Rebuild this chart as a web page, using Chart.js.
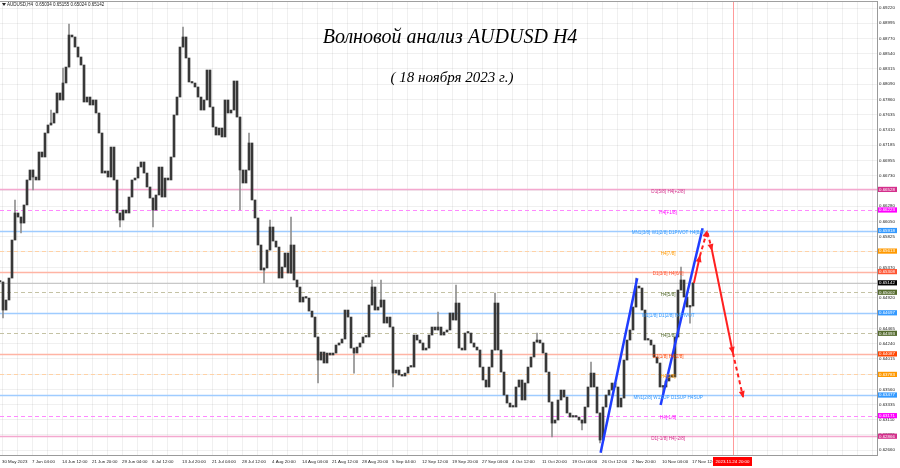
<!DOCTYPE html>
<html>
<head>
<meta charset="utf-8">
<title>AUDUSD H4</title>
<script src="https://cdn.jsdelivr.net/npm/chart.js@4.4.0/dist/chart.umd.min.js"></script>
<style>
  html, body { margin: 0; padding: 0; background: #fff; }
  canvas { display: block; }
</style>
</head>
<body>
<canvas id="chart" width="900" height="468"></canvas>
<script>
// closing prices, one slot ~ 3 H4 bars, 30 May 2023 -> 17 Nov 2023
const closes = [
  0.65154, 0.64738, 0.64887, 0.65213, 0.65777, 0.66178, 0.66118, 0.66029, 0.66297, 0.66668,
  0.66816, 0.66712, 0.66668, 0.67083, 0.67009, 0.67365, 0.67484, 0.67513, 0.67662, 0.67959,
  0.67855, 0.68107, 0.68344, 0.68819, 0.68790, 0.68641, 0.68493, 0.68374, 0.67825, 0.67899,
  0.67781, 0.67855, 0.67662, 0.67365, 0.66771, 0.66801, 0.66712, 0.67157, 0.66668, 0.66178,
  0.66074, 0.66222, 0.66178, 0.66415, 0.66668, 0.66697, 0.66860, 0.66935, 0.66771, 0.66564,
  0.66400, 0.66222, 0.66445, 0.66860, 0.66415, 0.66697, 0.66668, 0.67009, 0.67632, 0.67899,
  0.68641, 0.68790, 0.68478, 0.68122, 0.68107, 0.68048, 0.67899, 0.67706, 0.67855, 0.68300,
  0.67751, 0.67454, 0.67335, 0.67439, 0.67306, 0.67855, 0.67662, 0.67706, 0.68137, 0.67602,
  0.66816, 0.66623, 0.66816, 0.67217, 0.66371, 0.66104, 0.65703, 0.65332, 0.65362, 0.65629,
  0.65970, 0.65762, 0.65673, 0.65213, 0.65376, 0.65584, 0.65287, 0.65703, 0.65184, 0.65080,
  0.64857, 0.64931, 0.64916, 0.64723, 0.64634, 0.64338, 0.63996, 0.64115, 0.63952, 0.64100,
  0.64071, 0.64100, 0.64219, 0.64249, 0.64308, 0.64738, 0.64634, 0.64174, 0.64100, 0.64189,
  0.64249, 0.64338, 0.64338, 0.64813, 0.65080, 0.64738, 0.64783, 0.64887, 0.64545, 0.64634,
  0.64486, 0.63803, 0.63848, 0.63774, 0.63759, 0.63803, 0.63892, 0.63892, 0.64367, 0.64293,
  0.64249, 0.64145, 0.64174, 0.64367, 0.64486, 0.64442, 0.64486, 0.64367, 0.64412, 0.64442,
  0.64694, 0.64590, 0.64842, 0.64174, 0.64145, 0.64397, 0.64397, 0.64249, 0.64189, 0.64145,
  0.63892, 0.63700, 0.63596, 0.63892, 0.64145, 0.64842, 0.64145, 0.63818, 0.63477, 0.63358,
  0.63299, 0.63299, 0.63596, 0.63700, 0.63403, 0.63655, 0.63892, 0.64041, 0.64263, 0.64293,
  0.64249, 0.64100, 0.63818, 0.63373, 0.63061, 0.63106, 0.63403, 0.63551, 0.63447, 0.63210,
  0.63150, 0.63150, 0.63150, 0.63106, 0.63061, 0.63299, 0.63596, 0.63803, 0.63596, 0.63210,
  0.62809, 0.63299, 0.63477, 0.63551, 0.63655, 0.63596, 0.63299, 0.63432, 0.63996, 0.64293,
  0.64442, 0.64783, 0.65094, 0.65065, 0.64738, 0.64293, 0.64293, 0.64219, 0.64041, 0.63952,
  0.63596, 0.63596, 0.63685, 0.63774, 0.63744, 0.64338, 0.65035, 0.65184, 0.64931, 0.64783,
  0.64798, 0.65142
];

// visible wick spikes
const wickSlots = [1, 5, 7, 11, 17, 21, 23, 40, 51, 61, 80, 83, 88, 90, 97, 106, 118, 124, 127, 131,
  146, 152, 165, 179, 184, 194, 197, 200, 212, 221, 227, 230];
const wickLow = [0.64620, 0.66118, 0.65881, 0.66519, 0.67484, 0.67855, 0.68344, 0.65970, 0.65970, 0.68641,
  0.66222, 0.66816, 0.65139, 0.65629, 0.65287, 0.63655, 0.63803, 0.64813, 0.64783, 0.63596,
  0.64442, 0.64590, 0.64145, 0.64263, 0.62854, 0.62958, 0.63596, 0.62765, 0.64783, 0.63447, 0.65035, 0.64545];
const wickHigh = [0.65154, 0.66371, 0.66118, 0.66816, 0.67706, 0.68330, 0.68983, 0.66178, 0.66400, 0.68938,
  0.67602, 0.67365, 0.65362, 0.66074, 0.66118, 0.64338, 0.64174, 0.65184, 0.65184, 0.64486,
  0.64709, 0.65109, 0.64991, 0.64397, 0.63373, 0.63106, 0.63967, 0.63210, 0.65213, 0.63596, 0.65376, 0.64798];

const priceTicks = [0.69220, 0.68995, 0.68770, 0.68540, 0.68315, 0.68090, 0.67860, 0.67635, 0.67410, 0.67185,
  0.66955, 0.66730, 0.66505, 0.66280, 0.66050, 0.65825, 0.65600, 0.65370, 0.65145, 0.64920,
  0.64690, 0.64465, 0.64240, 0.64015, 0.63785, 0.63560, 0.63335, 0.63110, 0.62885, 0.62660];

const timeLabels = ['30 May 2023', '7 Jun 04:00', '14 Jun 12:00', '21 Jun 20:00', '29 Jun 04:00', '6 Jul 12:00',
  '13 Jul 20:00', '21 Jul 04:00', '28 Jul 12:00', '4 Aug 20:00', '14 Aug 04:00', '21 Aug 12:00',
  '28 Aug 20:00', '5 Sep 04:00', '12 Sep 12:00', '19 Sep 20:00', '27 Sep 04:00', '4 Oct 12:00',
  '11 Oct 20:00', '19 Oct 04:00', '26 Oct 12:00', '2 Nov 20:00', '10 Nov 04:00', '17 Nov 12:00'];

// Murrey levels
const levelPrices = [0.66528, 0.66223, 0.65918, 0.65613, 0.65308, 0.65002, 0.64697, 0.64393, 0.64087, 0.63783, 0.63477, 0.63171, 0.62866];
const levelNames = ['D1[5/8] H4[+2/8]', 'H4[+1/8]', 'MN1[3/8] W1[2/8] D1PIVOT H4[8/8]', 'H4[7/8]', 'D1[3/8] H4[6/8]',
  'H4[5/8]', 'W1[1/8] D1[2/8] H4PIVOT', 'H4[3/8]', 'D1[1/8] H4[2/8]', 'H4[1/8]', 'MN1[2/8] W1SUP D1SUP H4SUP', 'H4[-1/8]', 'D1[-1/8] H4[-2/8]'];
const levelBox = ['#d42f8c', '#ff00ff', '#3399ff', '#ff9900', '#ff5533', '#556b2f', '#3399ff', '#556b2f', '#ff4500', '#ff9900', '#3399ff', '#ff00ff', '#d42f8c'];
const levelLine = ['#f4a8cf', '#ff88ff', '#9fccff', '#ffd2a6', '#ffb4a4', '#c4c2a4', '#9fccff', '#c4c2a4', '#ffb4a4', '#ffd2a6', '#9fccff', '#ff88ff', '#f4a8cf'];
const levelDash = [false, true, false, true, false, true, false, true, false, true, false, true, false];
const levelLabelSlot = 222.7;

// wave marks
const blueWave1Slots = [200.2, 212.4];
const blueWave1Prices = [0.62621, 0.65209];
const blueWave2Slots = [220.2, 234.2];
const blueWave2Prices = [0.63329, 0.65951];
const redSlots = [231.3, 233.3, 235.7, 237.3, 244.3, 247.7];
const redPrices = [0.65139, 0.65540, 0.65911, 0.65629, 0.64100, 0.63447];
const redDashed = [false, true, true, false, true];

const timeLineSlot = 244.33;
const timeLineLabel = '2023.11.24 20:00';
const header = 'AUDUSD,H4  0.65034 0.65155 0.65024 0.65142';

const gridColor = 'rgba(0,0,0,0.06)';
const smallFont = '"Liberation Sans", Arial, sans-serif';

const bodies = closes.map((c, i) => ({ x: i, y: [i ? closes[i - 1] : c, c] }));
const wicks = wickSlots.map((s, k) => ({ x: s, y: [wickLow[k], wickHigh[k]] }));
const toPts = (xs, ys) => xs.map((v, k) => ({ x: v, y: ys[k] }));

const gridSlots = [];
for (let j = 0; j * 5 + 2 / 3 < 292; j++) gridSlots.push(j * 5 + 2 / 3);

function arrowHead(ctx, x0, y0, x1, y1, color) {
  const ang = Math.atan2(y1 - y0, x1 - x0);
  ctx.save();
  ctx.translate(x1, y1);
  ctx.rotate(ang);
  ctx.beginPath();
  ctx.moveTo(1, 0);
  ctx.lineTo(-6, -3);
  ctx.lineTo(-6, 3);
  ctx.closePath();
  ctx.fillStyle = color;
  ctx.fill();
  ctx.restore();
}

const overlay = {
  id: 'overlay',
  beforeDatasetsDraw(chart) {
    const { ctx, chartArea: a, scales: { x, y } } = chart;
    ctx.save();
    levelPrices.forEach((p, k) => {
      const py = Math.round(y.getPixelForValue(p)) + 0.5;
      ctx.strokeStyle = levelLine[k];
      ctx.lineWidth = levelDash[k] ? 1 : 1.4;
      ctx.setLineDash(levelDash[k] ? [4, 3] : []);
      ctx.beginPath();
      ctx.moveTo(a.left, py);
      ctx.lineTo(a.right, py);
      ctx.stroke();
    });
    // bid line
    const by = Math.round(y.getPixelForValue(closes[closes.length - 1])) + 0.5;
    ctx.setLineDash([]);
    ctx.strokeStyle = '#c8c8c8';
    ctx.lineWidth = 1;
    ctx.beginPath();
    ctx.moveTo(a.left, by);
    ctx.lineTo(a.right, by);
    ctx.stroke();
    // time line
    const tx = Math.round(x.getPixelForValue(timeLineSlot)) + 0.5;
    ctx.strokeStyle = '#ff9a9a';
    ctx.beginPath();
    ctx.moveTo(tx, a.top);
    ctx.lineTo(tx, a.bottom);
    ctx.stroke();
    ctx.restore();
  },
  afterDatasetsDraw(chart) {
    const { ctx, scales: { x, y } } = chart;
    ctx.save();
    ctx.font = '4.6px ' + smallFont;
    ctx.textAlign = 'center';
    ctx.textBaseline = 'middle';
    const lx = x.getPixelForValue(levelLabelSlot);
    levelPrices.forEach((p, k) => {
      ctx.fillStyle = levelBox[k];
      ctx.fillText(levelNames[k], lx, y.getPixelForValue(p) + 2.5);
    });
    const pts = chart.getDatasetMeta(2).data;
    for (let i = 1; i < pts.length; i++) {
      arrowHead(ctx, pts[i - 1].x, pts[i - 1].y, pts[i].x, pts[i].y, '#ff2020');
    }
    ctx.restore();
  },
  afterDraw(chart) {
    const { ctx, chartArea: a, scales: { x, y } } = chart;
    ctx.save();
    // top border
    ctx.strokeStyle = '#a0a0a0';
    ctx.lineWidth = 1;
    ctx.beginPath();
    ctx.moveTo(0, a.top + 0.5);
    ctx.lineTo(a.right, a.top + 0.5);
    ctx.stroke();
    // price boxes on axis
    ctx.font = '4.4px ' + smallFont;
    ctx.textAlign = 'left';
    ctx.textBaseline = 'middle';
    const boxes = levelPrices.map((p, k) => [p, levelBox[k]]);
    boxes.push([closes[closes.length - 1], '#000000']);
    boxes.forEach(([p, col]) => {
      const py = y.getPixelForValue(p);
      ctx.fillStyle = col;
      ctx.fillRect(a.right + 1, py - 2.6, 19, 5.2);
      ctx.fillStyle = '#ffffff';
      ctx.fillText(p.toFixed(5), a.right + 2, py + 0.2);
    });
    // time box
    const tx = x.getPixelForValue(timeLineSlot);
    ctx.fillStyle = '#ff0000';
    ctx.fillRect(tx - 20, a.bottom + 2, 39, 9);
    ctx.fillStyle = '#ffffff';
    ctx.textAlign = 'center';
    ctx.fillText(timeLineLabel, tx - 0.5, a.bottom + 6.8);
    // header
    ctx.fillStyle = '#222';
    ctx.beginPath();
    ctx.moveTo(2, 3);
    ctx.lineTo(6, 3);
    ctx.lineTo(4, 6);
    ctx.closePath();
    ctx.fill();
    ctx.textAlign = 'left';
    ctx.font = '4.5px ' + smallFont;
    ctx.fillText(header, 7, a.top + 4);
    // titles
    ctx.fillStyle = '#000';
    ctx.textAlign = 'center';
    ctx.font = 'italic 20px "Liberation Serif", serif';
    ctx.fillText('Волновой анализ AUDUSD H4', 450, 38);
    ctx.font = 'italic 15px "Liberation Serif", serif';
    ctx.fillText('( 18 ноября 2023 г.)', 452, 78);
    ctx.restore();
  }
};

new Chart(document.getElementById('chart'), {
  type: 'bar',
  data: {
    datasets: [
      { type: 'line', data: toPts(blueWave1Slots, blueWave1Prices), borderColor: '#1f3dff', borderWidth: 2.5, pointRadius: 0 },
      { type: 'line', data: toPts(blueWave2Slots, blueWave2Prices), borderColor: '#1f3dff', borderWidth: 2.5, pointRadius: 0 },
      {
        type: 'line', data: toPts(redSlots, redPrices), borderColor: '#ff2020', borderWidth: 2, pointRadius: 0,
        segment: { borderDash: c => redDashed[c.p0DataIndex] ? [4, 3] : [] }
      },
      { data: bodies, backgroundColor: '#383838', barThickness: 2, minBarLength: 1.5, grouped: false },
      { data: wicks, backgroundColor: '#909090', barThickness: 1, grouped: false }
    ]
  },
  options: {
    responsive: false,
    animation: false,
    devicePixelRatio: 1,
    layout: { padding: { top: 1, left: 0, right: 0, bottom: 0 } },
    plugins: { legend: { display: false }, tooltip: { enabled: false } },
    scales: {
      x: {
        type: 'linear', min: 0, max: 292.33, offset: false,
        grid: { color: gridColor, drawTicks: false, offset: false },
        border: { color: '#9a9a9a' },
        afterBuildTicks: s => { s.ticks = gridSlots.map(v => ({ value: v })); },
        afterFit: s => { s.height = 13; s.paddingLeft = 0; s.paddingRight = 0; },
        ticks: {
          autoSkip: false, maxRotation: 0, align: 'start', padding: 4, color: '#222',
          font: { family: smallFont, size: 4.4 },
          callback: (v, i) => (i % 2 === 0 && timeLabels[i / 2]) ? timeLabels[i / 2] : ''
        }
      },
      y: {
        position: 'right', min: 0.62587, max: 0.69324,
        grid: { color: gridColor, drawTicks: false },
        border: { color: '#9a9a9a' },
        afterBuildTicks: s => { s.ticks = priceTicks.map(v => ({ value: v })); },
        afterFit: s => { s.width = 23; s.paddingTop = 0; s.paddingBottom = 0; },
        ticks: { padding: 2, color: '#222', font: { family: smallFont, size: 4.4 }, callback: v => v.toFixed(5) }
      }
    }
  },
  plugins: [overlay]
});
</script>
</body>
</html>
